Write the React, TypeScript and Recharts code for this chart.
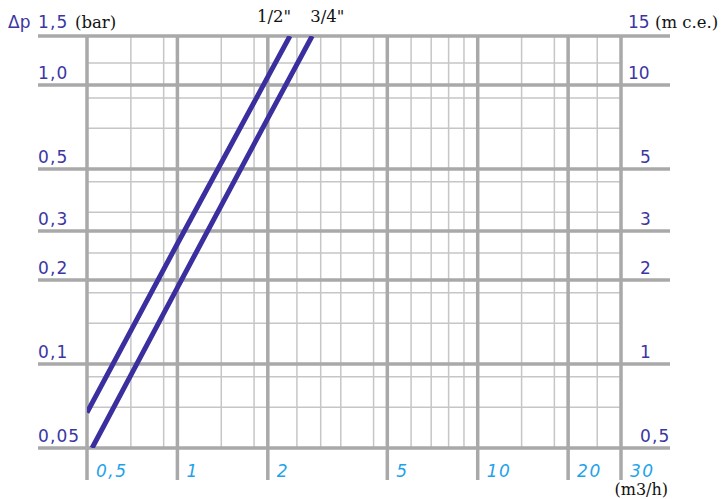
import React from "react";
import {
  LineChart,
  Line,
  XAxis,
  YAxis,
  CartesianGrid,
  ReferenceLine,
  LabelList,
  Label
} from "recharts";

// flow (m3/h), log axis
const flowTicks = [0.5, 1, 2, 5, 10, 20, 30];
const flowLabels = ["0,5", "1", "2", "5", "10", "20", "30"];
const flowMinor = [0.6, 0.7, 0.8, 0.9, 1.2, 1.4, 1.6, 1.8, 2.5, 3, 3.5, 4, 4.5, 6, 7, 8, 9, 12, 14, 16, 18, 25];

// pressure drop (bar) and the same in m c.e.
const barTicks = [0.05, 0.1, 0.2, 0.3, 0.5, 1, 1.5];
const barLabels = ["0,05", "0,1", "0,2", "0,3", "0,5", "1,0", "1,5"];
const mceLabels = ["0,5", "1", "2", "3", "5", "10", "15"];
const barMinor = [0.06, 0.07, 0.08, 0.09, 0.12, 0.14, 0.16, 0.18, 0.25, 0.35, 0.4, 0.45, 0.6, 0.7, 0.8, 0.9, 1.2];

// the two valve sizes
const halfInchFlow = [0.5, 1, 2, 2.37];
const halfInchDp = [0.067, 0.27, 1.07, 1.5];
const threeQuarterFlow = [0.52, 1, 2, 2.81];
const threeQuarterDp = [0.05, 0.188, 0.76, 1.5];

const halfInch = halfInchFlow.map((q, i) => ({ q, dp: halfInchDp[i] }));
const threeQuarter = threeQuarterFlow.map((q, i) => ({ q, dp: threeQuarterDp[i] }));

const LINE = "#3b2f9f";
const LABEL = "#3c36a4";
const CYAN = "#1ea3ea";
const MAJOR = "#a9a9aa";
const MINOR = "#c6c6c6";
const SANS = "DejaVu Sans";
const SERIF = "DejaVu Serif";

const MajorH = (p: any) => (
  <line
    x1={Math.min(p.x1, p.x2) - 49}
    x2={Math.max(p.x1, p.x2) + 49}
    y1={p.y1}
    y2={p.y2}
    stroke={MAJOR}
    strokeWidth={3.5}
  />
);

const MajorV = (p: any) => (
  <line
    x1={p.x1}
    x2={p.x2}
    y1={Math.min(p.y1, p.y2)}
    y2={Math.max(p.y1, p.y2) + 32}
    stroke={MAJOR}
    strokeWidth={3.5}
  />
);

function BarTick({ x, y, payload }: any) {
  const i = barTicks.indexOf(payload.value);
  const top = i === barTicks.length - 1;
  const base = y - (top ? 8 : 6);
  return (
    <g>
      {top && (
        <text x={x - 79} y={base} fill={LABEL} fontSize={17} fontFamily={SANS}>
          Δp
        </text>
      )}
      <text x={x - 49} y={base} fill={LABEL} fontSize={17} letterSpacing={1.1} fontFamily={SANS}>
        {barLabels[i]}
      </text>
      {top && (
        <text x={x - 12} y={base} fill="#111" fontSize={16.5} fontFamily={SERIF}>
          (bar)
        </text>
      )}
    </g>
  );
}

function MceTick({ x, y, payload }: any) {
  const i = barTicks.indexOf(payload.value);
  const top = i === barTicks.length - 1;
  const label = mceLabels[i];
  const base = y - (top ? 8 : 6);
  return (
    <g>
      <text
        x={x + (label.length === 2 ? 7 : 19)}
        y={base}
        fill={LABEL}
        fontSize={17}
        letterSpacing={label.length === 2 ? 0 : 1.1}
        fontFamily={SANS}
      >
        {label}
      </text>
      {top && (
        <text x={x + 34} y={base} fill="#111" fontSize={16.5} fontFamily={SERIF}>
          (m c.e.)
        </text>
      )}
    </g>
  );
}

function FlowTick({ x, y, payload }: any) {
  const i = flowTicks.indexOf(payload.value);
  return (
    <text
      x={x + 9}
      y={y + 29}
      fill={CYAN}
      fontSize={17}
      fontStyle="italic"
      letterSpacing={1.5}
      fontFamily={SANS}
    >
      {flowLabels[i]}
    </text>
  );
}

const endLabel = (text: string, dx: number, count: number) => (p: any) =>
  p.index === count - 1 ? (
    <text x={p.x + dx} y={p.y - 14} fill="#111" fontSize={16.5} fontFamily={SERIF}>
      {text}
    </text>
  ) : null;

export default function App() {
  return (
    <div style={{ position: "absolute", left: 0, top: 0, background: "#fff" }}>
      <LineChart width={722} height={499} margin={{ top: 36, right: 0, bottom: 0, left: 0 }}>
        <XAxis
          dataKey="q"
          type="number"
          scale="log"
          domain={[0.5, 30]}
          allowDataOverflow
          ticks={flowTicks}
          tick={<FlowTick />}
          tickSize={0}
          tickMargin={0}
          axisLine={false}
          tickLine={false}
          height={51}
        >
          <Label
            content={({ viewBox }: any) => (
              <text
                x={viewBox.x + viewBox.width + 47}
                y={viewBox.y + 47}
                textAnchor="end"
                fill="#111"
                fontSize={16}
                fontFamily={SERIF}
              >
                (m3/h)
              </text>
            )}
          />
        </XAxis>
        <YAxis
          yAxisId="left"
          type="number"
          scale="log"
          domain={[0.05, 1.5]}
          allowDataOverflow
          ticks={barTicks}
          tick={<BarTick />}
          tickSize={0}
          tickMargin={0}
          axisLine={false}
          tickLine={false}
          width={87}
        />
        <YAxis
          yAxisId="right"
          orientation="right"
          type="number"
          scale="log"
          domain={[0.05, 1.5]}
          allowDataOverflow
          ticks={barTicks}
          tick={<MceTick />}
          tickSize={0}
          tickMargin={0}
          axisLine={false}
          tickLine={false}
          width={101}
        />
        <CartesianGrid
          yAxisId="left"
          horizontalValues={barMinor}
          verticalValues={flowMinor}
          stroke={MINOR}
          strokeWidth={1.5}
        />
        {barTicks.map((v) => (
          <ReferenceLine key={"h" + v} yAxisId="left" y={v} ifOverflow="visible" shape={MajorH} />
        ))}
        {flowTicks.map((v) => (
          <ReferenceLine key={"v" + v} yAxisId="left" x={v} ifOverflow="visible" shape={MajorV} />
        ))}
        <Line
          yAxisId="left"
          data={halfInch}
          dataKey="dp"
          type="linear"
          stroke={LINE}
          strokeWidth={5}
          dot={false}
          activeDot={false}
          isAnimationActive={false}
        >
          <LabelList dataKey="dp" content={endLabel('1/2"', -33, halfInch.length)} />
        </Line>
        <Line
          yAxisId="left"
          data={threeQuarter}
          dataKey="dp"
          type="linear"
          stroke={LINE}
          strokeWidth={5}
          dot={false}
          activeDot={false}
          isAnimationActive={false}
        >
          <LabelList dataKey="dp" content={endLabel('3/4"', -2, threeQuarter.length)} />
        </Line>
      </LineChart>
    </div>
  );
}
